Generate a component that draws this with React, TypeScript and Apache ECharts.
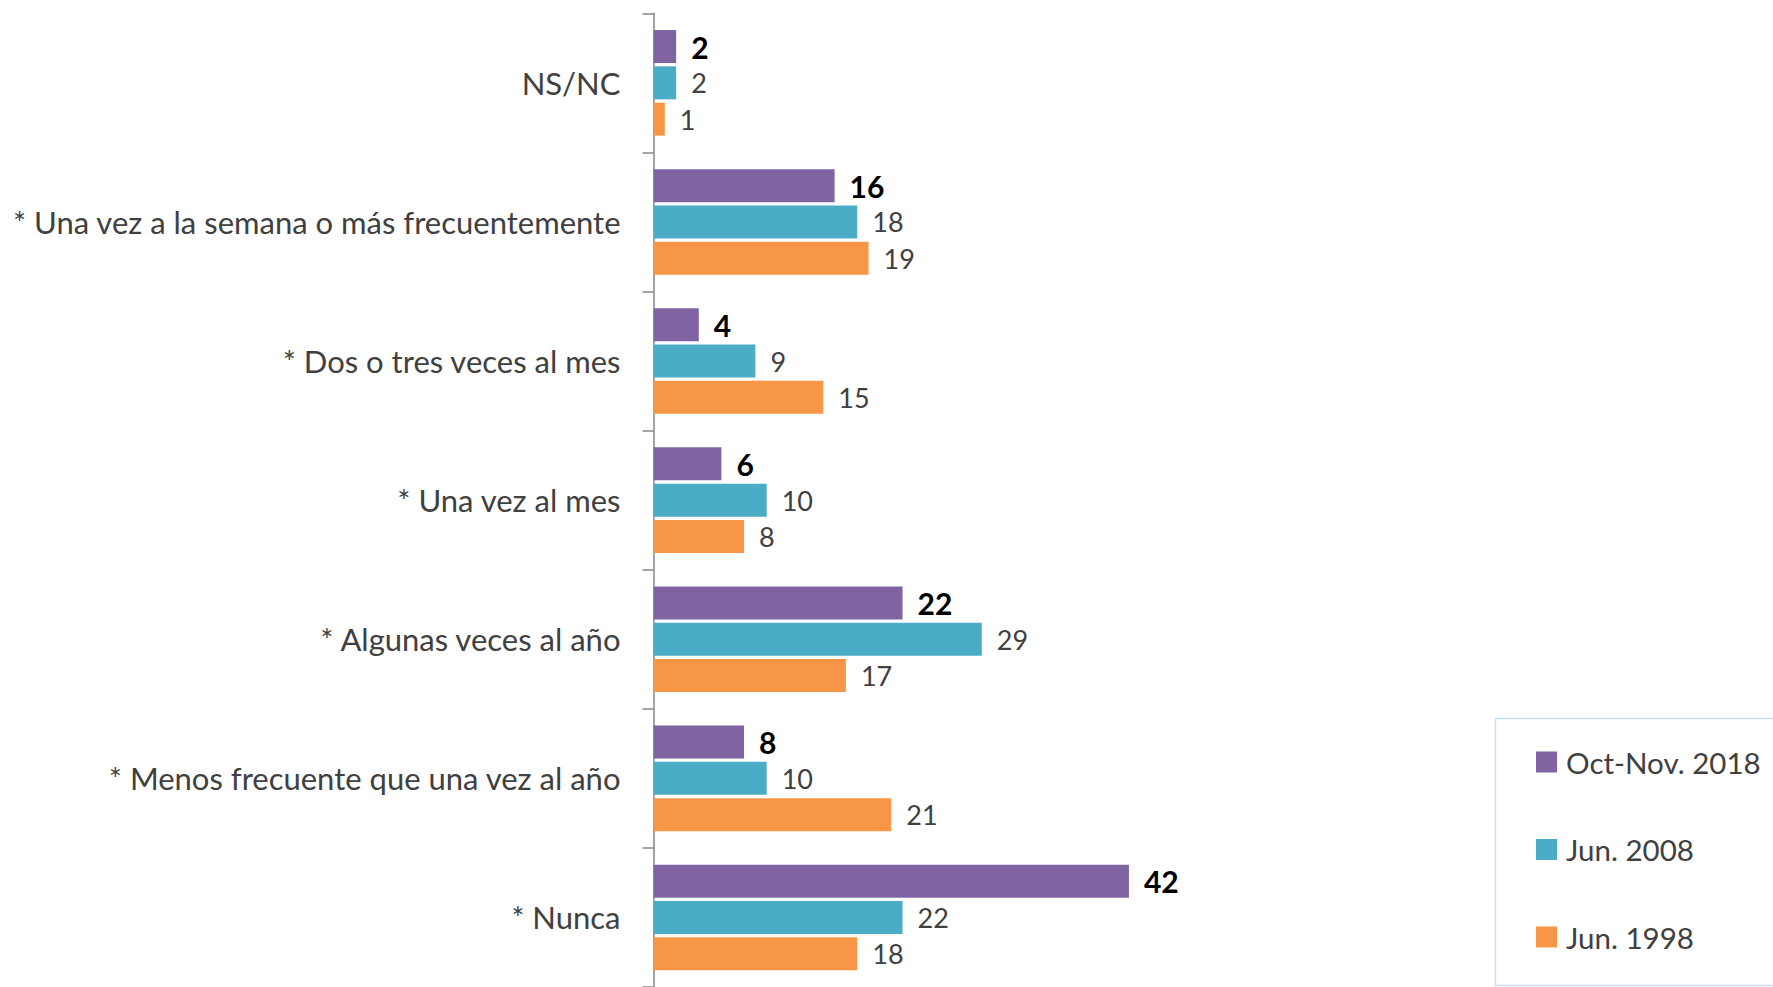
import React, { useEffect, useRef } from "react";
import * as echarts from "echarts";

const categories = [
  "NS/NC",
  "* Una vez a la semana o más frecuentemente",
  "* Dos o tres veces al mes",
  "* Una vez al mes",
  "* Algunas veces al año",
  "* Menos frecuente que una vez al año",
  "* Nunca",
];
const seriesNames = ["Oct-Nov. 2018", "Jun. 2008", "Jun. 1998"];
const values2018 = [2, 16, 4, 6, 22, 8, 42];
const values2008 = [2, 18, 9, 10, 29, 10, 22];
const values1998 = [1, 19, 15, 8, 17, 21, 18];
const colors = ["#8064A2", "#4BACC6", "#F79646"];

const FONT = "Lato, 'Noto Sans', sans-serif";

export default function App() {
  const ref = useRef<HTMLDivElement>(null);
  useEffect(() => {
    if (!ref.current) return;
    const chart = echarts.init(ref.current, undefined, { renderer: "svg" });
    const data = [values2018, values2008, values1998];
    chart.setOption({
      animation: false,
      textStyle: { fontFamily: FONT },
      grid: { left: 653.5, top: 13.3, width: 566, height: 976.5, containLabel: false },
      xAxis: { type: "value", min: 0, max: 50, show: false },
      yAxis: {
        type: "category",
        inverse: true,
        data: categories,
        axisLine: { show: true, lineStyle: { color: "#868686", width: 1.5 } },
        axisTick: { show: true, length: 11, lineStyle: { color: "#868686", width: 1.5 } },
        axisLabel: {
          color: "#404040",
          fontSize: 31,
          fontFamily: FONT,
          margin: 33,
          padding: [0, 0, 6, 0],
        },
      },
      legend: {
        orient: "vertical",
        left: 1531,
        top: 741,
        itemWidth: 21,
        itemHeight: 21,
        itemGap: 55.5,
        icon: "rect",
        textStyle: {
          color: "#404040",
          fontSize: 29.5,
          fontFamily: FONT,
          lineHeight: 32,
          padding: [0, 0, 0, 4],
        },
        data: seriesNames,
      },
      graphic: [
        {
          type: "rect",
          shape: { x: 1495.5, y: 718.5, width: 300, height: 267 },
          style: { fill: "none", stroke: "#C6E0F5", lineWidth: 1.5 },
          silent: true,
        },
      ],
      series: seriesNames.map((name, i) => ({
        name,
        type: "bar",
        data: data[i],
        barWidth: 33,
        barGap: "10%",
        itemStyle: { color: colors[i] },
        label: {
          show: true,
          position: "right",
          distance: 15,
          fontFamily: FONT,
          fontSize: i === 0 ? 30 : 27,
          fontWeight: i === 0 ? "bold" : "normal",
          color: i === 0 ? "#000000" : "#404040",
        },
      })),
    });
    return () => chart.dispose();
  }, []);
  return (
    <div
      ref={ref}
      style={{ position: "absolute", left: 0, top: 0, width: 1773, height: 987, background: "#fff" }}
    />
  );
}
